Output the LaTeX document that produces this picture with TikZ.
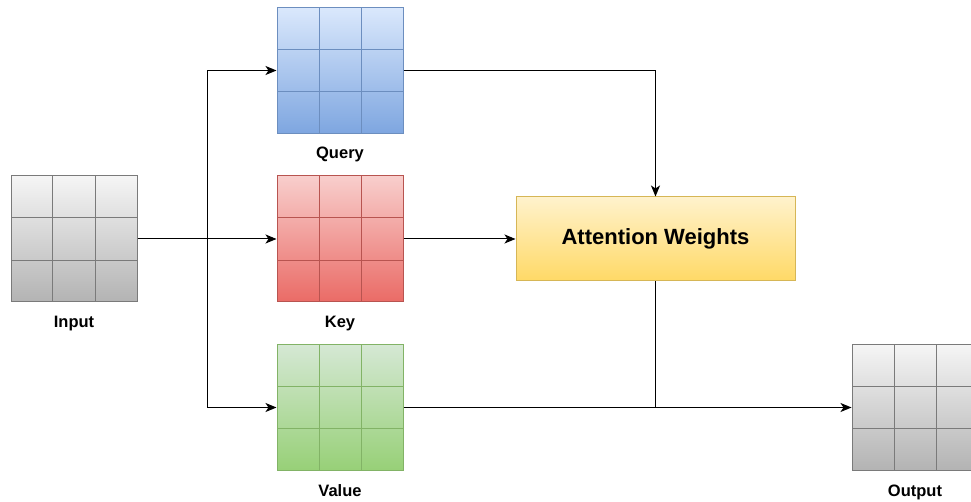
\documentclass[tikz,border=0pt]{standalone}
\usepackage{fontspec}
\setmainfont{Liberation Sans}
\usetikzlibrary{positioning,calc,arrows.meta}

\definecolor{gstroke}{HTML}{7A7A7A}
\definecolor{gtop}{HTML}{F5F5F5}
\definecolor{gbot}{HTML}{B3B3B3}
\definecolor{qstroke}{HTML}{6C8EBF}
\definecolor{qtop}{HTML}{DAE8FC}
\definecolor{qbot}{HTML}{7EA6E0}
\definecolor{kstroke}{HTML}{B85450}
\definecolor{ktop}{HTML}{F8CECC}
\definecolor{kbot}{HTML}{EA6B66}
\definecolor{vstroke}{HTML}{82B366}
\definecolor{vtop}{HTML}{D5E8D4}
\definecolor{vbot}{HTML}{97D077}
\definecolor{astroke}{HTML}{D6B656}
\definecolor{atop}{HTML}{FFF2CC}
\definecolor{abot}{HTML}{FFD966}

\begin{document}
\begin{tikzpicture}[x=1pt, y=-1pt, every node/.style={align=center},
    cells/.style n args={3}{draw=#1, line width=1pt, top color=#2, bottom color=#3,
        minimum width=126pt, minimum height=126pt, inner sep=0pt,
        path picture={
            \foreach \f in {0.3333,0.6667} {
                \draw[#1, line width=1pt]
                    ($(path picture bounding box.north west)!\f!(path picture bounding box.north east)$) --
                    ($(path picture bounding box.south west)!\f!(path picture bounding box.south east)$);
                \draw[#1, line width=1pt]
                    ($(path picture bounding box.north west)!\f!(path picture bounding box.south west)$) --
                    ($(path picture bounding box.north east)!\f!(path picture bounding box.south east)$);
            }}},
    attn/.style={draw=astroke, line width=1pt, top color=atop, bottom color=abot,
        minimum width=279pt, minimum height=84pt, font=\fontsize{22}{26}\selectfont\bfseries},
    lbl/.style={inner sep=0pt, font=\fontsize{16.5}{20}\selectfont\bfseries},
    flow/.style={-{Stealth[length=11pt, width=9pt, inset=3pt]}, line width=1pt},
    link/.style={line width=1pt}]
    \useasboundingbox (0,0) rectangle (971,502);

    \node[cells={gstroke}{gtop}{gbot}] (in) at (74,239) {};
    \node[cells={qstroke}{qtop}{qbot}] (qry) at (340,70.5) {};
    \node[cells={kstroke}{ktop}{kbot}] (key) at (340,239) {};
    \node[cells={vstroke}{vtop}{vbot}] (val) at (340,407.5) {};
    \node[cells={gstroke}{gtop}{gbot}] (out) at (915,407.5) {};
    \node[attn] (att) at (655.5,239) {Attention Weights};

    \node[lbl, below=13pt of in] (inlbl) {Input};
    \node[lbl, below=13pt of qry] (qrylbl) {Query};
    \node[lbl, below=13pt of key] (keylbl) {Key};
    \node[lbl, below=13pt of val] (vallbl) {Value};
    \node[lbl, below=14pt of out] (outlbl) {Output};

    \coordinate (fork) at (207,239);
    \draw[flow] (in) -- (key);
    \draw[flow] (fork) |- (qry);
    \draw[flow] (fork) |- (val);
    \draw[flow] (qry) -| (att);
    \draw[flow] (key) -- (att);
    \draw[link] (att) -- (att |- val);
    \draw[flow] (val) -- (out);
\end{tikzpicture}
\end{document}
